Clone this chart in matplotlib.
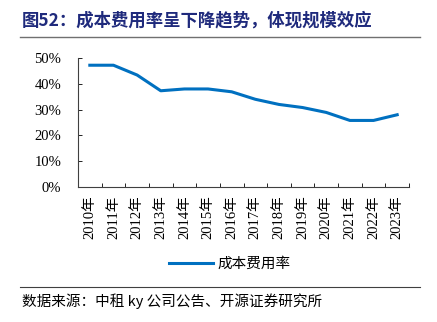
import matplotlib.pyplot as plt
from matplotlib.lines import Line2D

plt.rcParams['font.family'] = ['Liberation Serif', 'Noto Sans CJK SC']

years = ['2010年', '2011年', '2012年', '2013年', '2014年', '2015年', '2016年',
         '2017年', '2018年', '2019年', '2020年', '2021年', '2022年', '2023年']
cost_ratio = [47.2, 47.2, 43.4, 37.3, 38.0, 38.0, 36.9,
              34.0, 32.0, 30.8, 28.9, 25.8, 25.8, 28.0]
y_ticks = [0, 10, 20, 30, 40, 50]

fig = plt.figure(figsize=(4.37, 3.22), dpi=100)
ax = fig.add_axes([78 / 437, 1 - 187 / 322, 331 / 437, 129 / 322])

x = list(range(len(years)))
ax.plot(x, cost_ratio, color='#0070C0', lw=2.2, solid_joinstyle='round', label='成本费用率')

ax.set_xlim(-0.5, len(years) - 0.5)
ax.set_ylim(0, 50)
ax.set_yticks(y_ticks)
ax.set_yticklabels([f'{v}%' for v in y_ticks], fontsize=10.5)
ax.set_xticks([i - 0.5 for i in range(len(years) + 1)])
ax.set_xticklabels([])
ax.set_xticks(x, minor=True)
ax.set_xticklabels(years, minor=True, rotation=90, fontsize=10.5)
ax.tick_params(axis='x', which='minor', length=0, pad=6)
ax.tick_params(axis='x', which='major', direction='in', length=3, width=0.6)
ax.tick_params(axis='y', direction='in', length=3, width=0.6, pad=12)
for s in ['top', 'right']:
    ax.spines[s].set_visible(False)
for s in ['left', 'bottom']:
    ax.spines[s].set_linewidth(0.8)
    ax.spines[s].set_color('#404040')

fig.legend(handles=[Line2D([], [], color='#0070C0', lw=2.2)], labels=['成本费用率'],
           loc='center', bbox_to_anchor=(230 / 437, 1 - 264 / 322), frameon=False,
           prop={'family': 'Noto Sans CJK SC', 'size': 10.5}, handlelength=3.0, handletextpad=0.3)

fig.text(22 / 437, 1 - 20 / 322, '图52：成本费用率呈下降趋势，体现规模效应', color='#1F2A7C',
         fontsize=12.5, fontweight='bold', va='center', ha='left',
         family=['Noto Sans CJK SC', 'Liberation Serif'])
fig.add_artist(Line2D([20 / 437, 420 / 437], [1 - 37 / 322] * 2, color='#707070', lw=1))
fig.add_artist(Line2D([20 / 437, 420 / 437], [1 - 287 / 322] * 2, color='#404040', lw=0.8))
fig.text(22 / 437, 1 - 301 / 322, '数据来源：中租 ky 公司公告、开源证券研究所', fontsize=10.5,
         va='center', ha='left', family=['Noto Sans CJK SC', 'Liberation Serif'])

fig.savefig('out.png', dpi=100)
